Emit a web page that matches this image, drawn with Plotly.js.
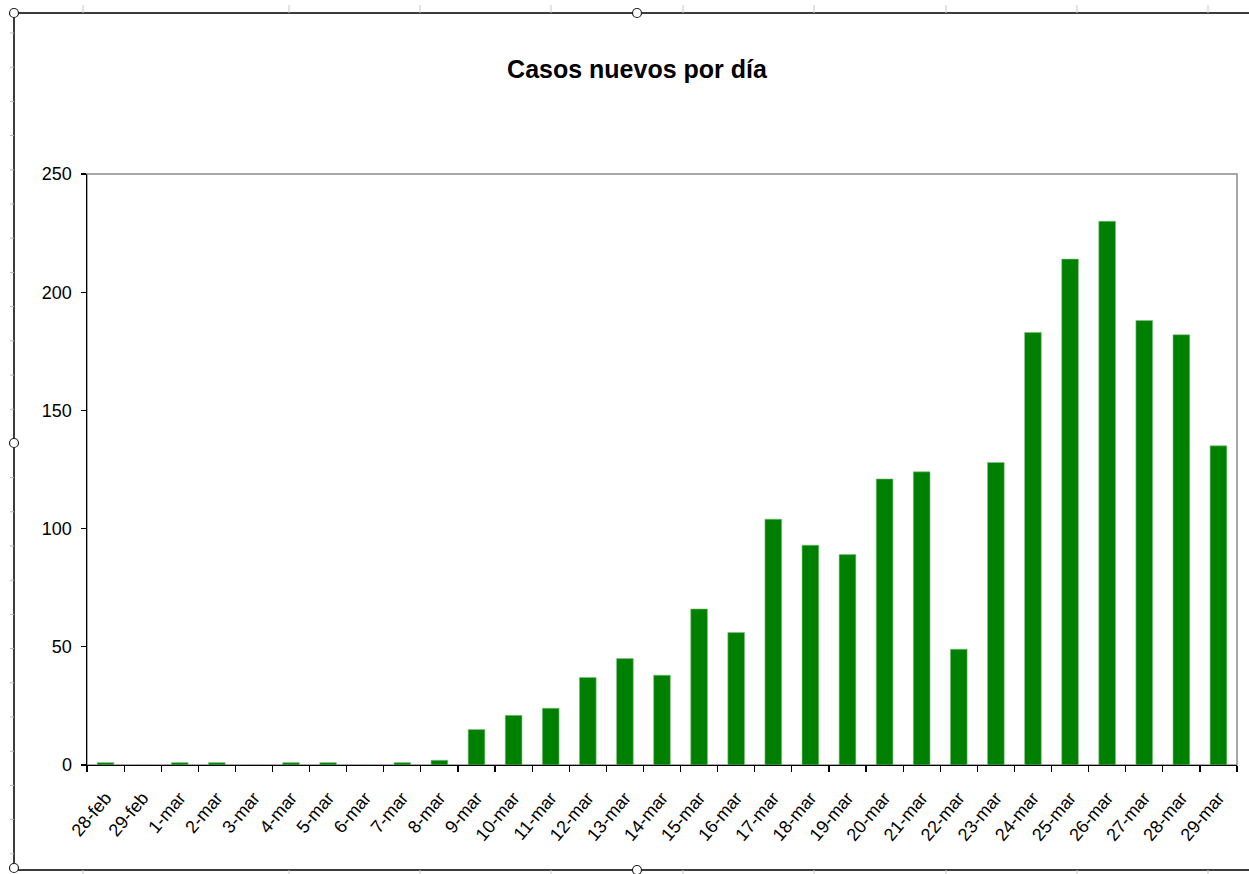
<!DOCTYPE html>
<html>
<head>
<meta charset="utf-8">
<script src="https://cdn.plot.ly/plotly-3.0.1.min.js"></script>
<style>
html,body{margin:0;padding:0;background:#fff;}
#chart{width:1249px;height:874px;}
</style>
</head>
<body>
<div id="chart"></div>
<script>
// ---- data ----
const categories = ["28-feb","29-feb","1-mar","2-mar","3-mar","4-mar","5-mar","6-mar","7-mar","8-mar",
  "9-mar","10-mar","11-mar","12-mar","13-mar","14-mar","15-mar","16-mar","17-mar","18-mar",
  "19-mar","20-mar","21-mar","22-mar","23-mar","24-mar","25-mar","26-mar","27-mar","28-mar","29-mar"];
const casosNuevos = [1,0,1,1,0,1,1,0,1,2,
  15,21,24,37,45,38,66,56,104,93,
  89,121,124,49,128,183,214,230,188,182,135];
const yTicks = [0,50,100,150,200,250];
const chartTitle = "Casos nuevos por día";

// ---- layout helpers (pixel -> paper) ----
const W = 1249, H = 874;
const M = {l:87, r:12, t:174, b:109};
const PW = W - M.l - M.r, PH = H - M.t - M.b;
const px = x => (x - M.l) / PW;
const py = y => (H - M.b - y) / PH;

const shapes = [];
// plot area border (gray top/right)
shapes.push({type:'rect', xref:'paper', yref:'paper', x0:0, x1:1, y0:0, y1:1,
  line:{color:'#8c8c8c', width:1.5}, layer:'below'});
// outer chart frame
const frameCol = '#3c3c3c';
shapes.push({type:'line', xref:'paper', yref:'paper', x0:px(14), x1:px(1252), y0:py(13), y1:py(13), line:{color:frameCol, width:2}});
shapes.push({type:'line', xref:'paper', yref:'paper', x0:px(14), x1:px(14), y0:py(13), y1:py(870), line:{color:frameCol, width:2}});
shapes.push({type:'line', xref:'paper', yref:'paper', x0:px(14), x1:px(1252), y0:py(870), y1:py(870), line:{color:frameCol, width:2}});
// ruler marks on the frame
[83,289,420,551,683,814,946,1077,1208].forEach(x=>{
  shapes.push({type:'line', xref:'paper', yref:'paper', x0:px(x), x1:px(x), y0:py(5), y1:py(13), line:{color:'#c8c8c8', width:1}});
  shapes.push({type:'line', xref:'paper', yref:'paper', x0:px(x), x1:px(x), y0:py(870), y1:py(874), line:{color:'#c8c8c8', width:1}});
});
for (let y=33; y<870; y+=34.2){
  shapes.push({type:'line', xref:'paper', yref:'paper', x0:px(10), x1:px(14), y0:py(y), y1:py(y), line:{color:'#b4b4b4', width:1}});
}
// selection handles
[[14,13],[637,13],[14,443],[14,868],[637,870]].forEach(([cx,cy])=>{
  shapes.push({type:'circle', xref:'paper', yref:'paper', x0:px(cx-4.5), x1:px(cx+4.5), y0:py(cy+4.5), y1:py(cy-4.5),
    line:{color:'#222', width:1.2}, fillcolor:'#fff'});
});

const trace = {
  type:'bar', x:categories, y:casosNuevos,
  marker:{color:'#008000', line:{color:'#7fbf7f', width:0.6}},
  hoverinfo:'x+y'
};

const layout = {
  width:W, height:H,
  margin:M,
  paper_bgcolor:'#fff', plot_bgcolor:'#fff',
  showlegend:false,
  bargap:0.55,
  title:{text:chartTitle, x:0.51, xanchor:'center', y:1-69/H, yanchor:'middle',
    font:{family:'Liberation Sans, Arial, sans-serif', size:25, color:'#000', weight:'bold'}},
  xaxis:{type:'category', tickson:'boundaries', ticks:'outside', ticklen:6, tickcolor:'#000', tickwidth:1.2,
    showline:true, linecolor:'#000', linewidth:1.2, showgrid:false, zeroline:false,
    tickangle:-50, ticklabelstandoff:14,
    tickfont:{family:'Liberation Sans, Arial, sans-serif', size:18, color:'#000'}},
  yaxis:{range:[0,250], tickvals:yTicks, ticks:'outside', ticklen:5, tickcolor:'#000', tickwidth:1.2,
    showline:true, linecolor:'#000', linewidth:1.5, showgrid:false, zeroline:false,
    ticklabelstandoff:5,
    tickfont:{family:'Liberation Sans, Arial, sans-serif', size:18, color:'#000'}},
  shapes:shapes
};

Plotly.newPlot('chart', [trace], layout, {displayModeBar:false, staticPlot:true});
</script>
</body>
</html>
